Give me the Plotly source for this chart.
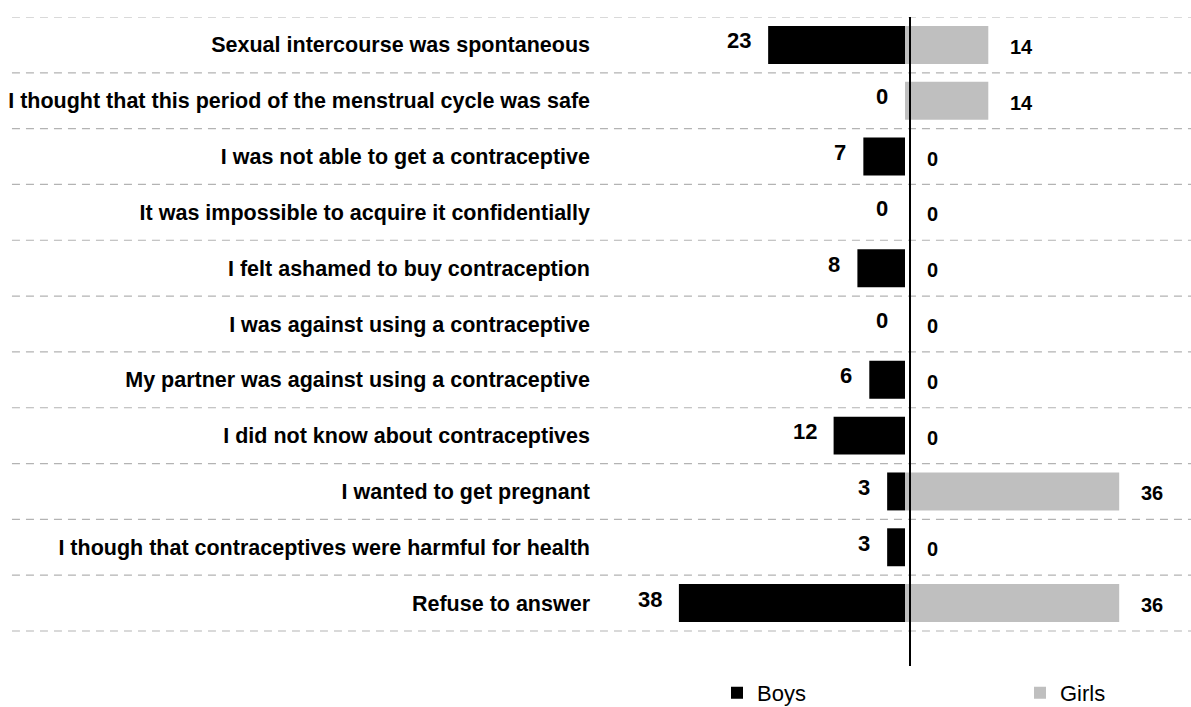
import plotly.graph_objects as go

# Reasons for not using contraception (%), by sex
categories = [
    "Sexual intercourse was spontaneous",
    "I thought that this period of the menstrual cycle was safe",
    "I was not able to get a contraceptive",
    "It was impossible to acquire it confidentially",
    "I felt ashamed to buy contraception",
    "I was against using a contraceptive",
    "My partner was against using a contraceptive",
    "I did not know about contraceptives",
    "I wanted to get pregnant",
    "I though that contraceptives were harmful for health",
    "Refuse to answer",
]
boys = [23, 0, 7, 0, 8, 0, 6, 12, 3, 3, 38]
girls = [14, 14, 0, 0, 0, 0, 0, 0, 36, 0, 36]

FONT = "Arial, Liberation Sans, sans-serif"
BOYS_COLOR = "#000000"
GIRLS_COLOR = "#bfbfbf"

fig = go.Figure()
fig.add_trace(go.Bar(
    y=categories, x=[-v for v in boys], base=0, orientation="h",
    name="Boys", marker=dict(color=BOYS_COLOR, line=dict(width=0)),
    width=0.68, hoverinfo="skip", legend="legend",
))
fig.add_trace(go.Bar(
    y=categories, x=girls, base=0, orientation="h",
    name="Girls", marker=dict(color=GIRLS_COLOR, line=dict(width=0)),
    width=0.68, hoverinfo="skip", legend="legend2",
))

# value labels beside each bar
for cat, b, g in zip(categories, boys, girls):
    fig.add_annotation(x=-b, y=cat, text=f"<b>{b}</b>", showarrow=False,
                       xanchor="right", xshift=-15, yshift=4,
                       font=dict(family=FONT, size=22, color="#000"))
    fig.add_annotation(x=g, y=cat, text=f"<b>{g}</b>", showarrow=False,
                       xanchor="left", xshift=20, yshift=-2,
                       font=dict(family=FONT, size=20, color="#000"))

# dashed separators between rows, running under the category labels too
n = len(categories)
for i in range(n + 1):
    fig.add_shape(type="line", xref="paper", yref="y",
                  x0=-0.995, x1=1.0, y0=i - 0.5, y1=i - 0.5,
                  line=dict(color="#b3b3b3", width=1.2, dash="8px,6px"),
                  layer="below")

# central vertical axis line
fig.add_shape(type="line", xref="x", yref="paper", x0=0.84, x1=0.84,
              y0=0, y1=1, line=dict(color="#000", width=2))

legend_common = dict(orientation="h", xref="container", yref="container",
                     y=0.02, xanchor="left", yanchor="middle",
                     font=dict(family=FONT, size=22, color="#000"),
                     bgcolor="rgba(0,0,0,0)", borderwidth=0)

fig.update_layout(
    width=1191, height=707,
    margin=dict(l=600, r=0, t=17, b=41, autoexpand=False),
    paper_bgcolor="white", plot_bgcolor="white",
    barmode="overlay",
    font=dict(family=FONT, color="#000"),
    showlegend=True,
    legend=dict(x=717 / 1191, **legend_common),
    legend2=dict(x=1020 / 1191, **legend_common),
    xaxis=dict(range=[-305 / 5.95, 286 / 5.95], showgrid=False,
               zeroline=False, showticklabels=False, ticks="",
               showline=False, fixedrange=True),
    yaxis=dict(type="category", categoryorder="array",
               categoryarray=categories, range=[n - 1 + 0.5 + 0.627, -0.5],
               showgrid=False, zeroline=False, ticks="", showline=False,
               ticklabelstandoff=9,
               tickfont=dict(family=FONT, size=21.5, color="#000"),
               tickvals=categories,
               ticktext=[f"<b>{c}</b>" for c in categories]),
)

fig.write_html("out.html")
